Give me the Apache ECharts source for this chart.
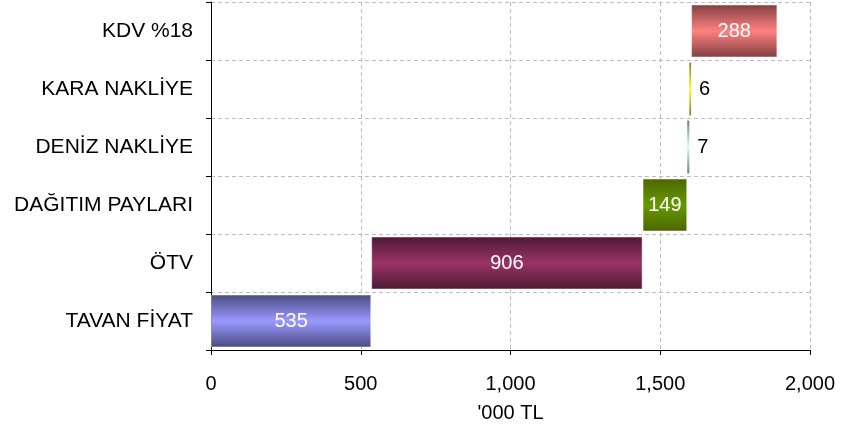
<!DOCTYPE html>
<html>
<head>
<meta charset="utf-8">
<script src="https://cdn.jsdelivr.net/npm/echarts@6/dist/echarts.min.js"></script>
<style>
  html, body { margin: 0; padding: 0; background: #fff; }
  #chart { width: 848px; height: 442px; }
</style>
</head>
<body>
<div id="chart"></div>
<script>
  // kategoriler (alttan üste)
  const categories = ['TAVAN FİYAT', 'ÖTV', 'DAĞITIM PAYLARI', 'DENİZ NAKLİYE', 'KARA NAKLİYE', 'KDV %18'];
  // değerler ('000 TL)
  const values = [535, 906, 149, 7, 6, 288];
  // x ekseni
  const xTicks = [0, 500, 1000, 1500, 2000];

  // renkler: [kenar, orta]
  const barColors = [
    ['#4a4a80', '#9999ff'],
    ['#4d1a33', '#993366'],
    ['#4d6600', '#669900'],
    ['#5f8080', '#ccffff'],
    ['#80803f', '#ffff00'],
    ['#804040', '#ff8080']
  ];

  // şelale için görünmez taban
  const base = [];
  let sum = 0;
  values.forEach(function (v) { base.push(sum); sum += v; });

  const font = 'Liberation Sans, Arial, sans-serif';

  const option = {
    animation: false,
    grid: { left: 211, right: 38, top: 2, bottom: 92, containLabel: false },
    xAxis: {
      type: 'value',
      min: xTicks[0],
      max: xTicks[xTicks.length - 1],
      interval: 500,
      name: "'000 TL",
      nameLocation: 'middle',
      nameGap: 53,
      nameTextStyle: { color: '#000', fontSize: 20, fontFamily: font },
      axisLine: { show: true, lineStyle: { color: '#000', width: 1 } },
      axisTick: { show: true, length: 5, lineStyle: { color: '#000' } },
      axisLabel: {
        color: '#000', fontSize: 20, fontFamily: font, margin: 24,
        formatter: function (v) { return v.toLocaleString('en-US'); }
      },
      splitLine: { show: true, lineStyle: { color: '#bdbdbd', type: [4, 3], width: 1 } }
    },
    yAxis: {
      type: 'category',
      data: categories,
      axisLine: { show: true, lineStyle: { color: '#000', width: 1 } },
      axisTick: { show: true, length: 5, lineStyle: { color: '#000' } },
      axisLabel: { color: '#000', fontSize: 21, fontFamily: font, margin: 18 },
      splitLine: { show: true, lineStyle: { color: '#bdbdbd', type: [4, 3], width: 1 } }
    },
    series: [
      {
        type: 'bar',
        stack: 'w',
        silent: true,
        itemStyle: { color: 'transparent' },
        data: base
      },
      {
        type: 'bar',
        stack: 'w',
        barCategoryGap: '9%',
        data: values.map(function (v, i) {
          const c = barColors[i];
          const small = v < 50;
          return {
            value: v,
            itemStyle: {
              color: new echarts.graphic.LinearGradient(0, 0, 0, 1, [
                { offset: 0, color: c[0] },
                { offset: 0.5, color: c[1] },
                { offset: 1, color: c[0] }
              ]),
              borderColor: 'rgba(255,255,255,0.4)',
              borderWidth: small ? 0 : 1
            },
            label: {
              show: true,
              position: small ? 'right' : 'inside',
              distance: 8,
              color: small ? '#000' : '#fff',
              fontSize: 20,
              fontFamily: font
            }
          };
        })
      }
    ]
  };

  const myChart = echarts.init(document.getElementById('chart'));
  myChart.setOption(option);
</script>
</body>
</html>
